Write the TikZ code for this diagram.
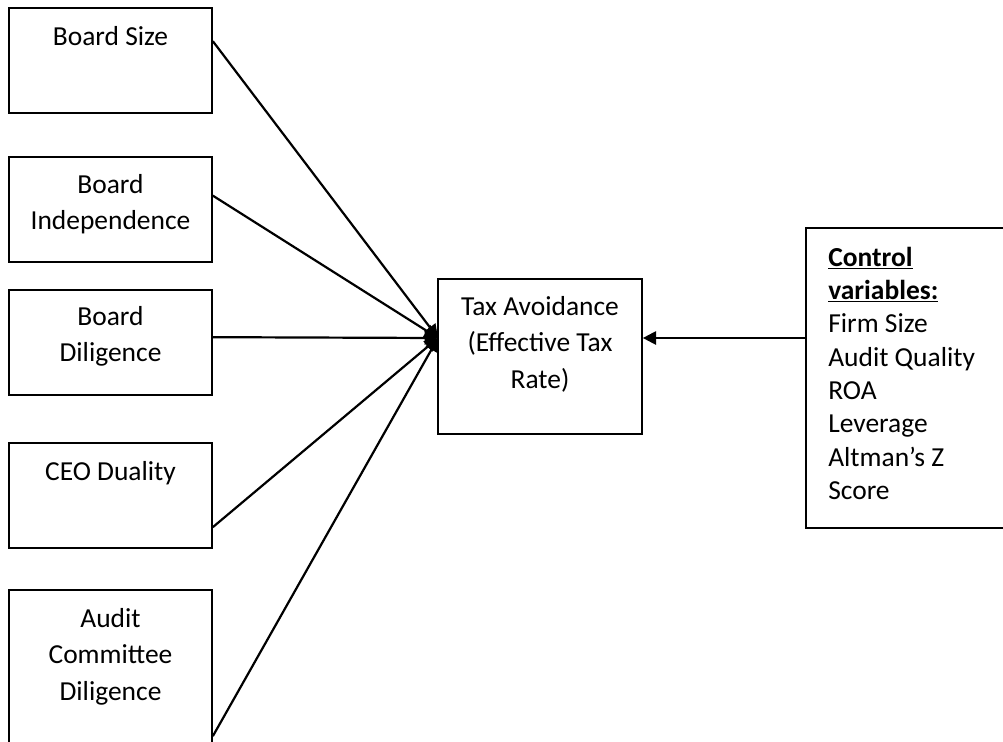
\documentclass[tikz,border=0pt]{standalone}
\usepackage{fontspec}
\setmainfont{Carlito}
\usetikzlibrary{arrows.meta}
\begin{document}
\begin{tikzpicture}[x=0.75pt,y=-0.75pt,
  box/.style={draw, line width=1.25pt, inner sep=0pt, minimum width=152.25pt, minimum height=78.75pt},
  txt/.style={anchor=north, inner sep=0pt, align=center, font=\fontsize{20.6}{27.4}\selectfont},
  conn/.style={line width=1.65pt, -{Triangle[length=10pt,width=10pt]}}]
\useasboundingbox (0,0) rectangle (1003,742);
\clip (0,0) rectangle (1003,742);
% boxes
\node[box] (bs) at (110.5,60.5) {};
\node[box] (bi) at (110.5,209.5) {};
\node[box] (bd) at (110.5,342.5) {};
\node[box] (ceo) at (110.5,495.5) {};
\node[box, minimum height=157.5pt] (acd) at (110.5,695) {};
\node[box, minimum width=153pt, minimum height=116.25pt] (tax) at (540,356.5) {};
\node[box, draw=none, minimum width=300pt, minimum height=223.5pt] (ctrl) at (1007,378) {};
\draw[line width=1.25pt] (ctrl.north east) -- (ctrl.north west) -- (ctrl.south west) -- (ctrl.south east);
% texts
\node[txt] (tbs) at (110.5,21) {\rule{0pt}{18pt}Board Size};
\node[txt] (tbi) at (110.5,169) {\rule{0pt}{18pt}Board\\Independence};
\node[txt] (tbd) at (110.5,301) {\rule{0pt}{18pt}Board\\Diligence};
\node[txt] (tceo) at (110.5,456) {\rule{0pt}{18pt}CEO Duality};
\node[txt] (tacd) at (110.5,603) {\rule{0pt}{18pt}Audit\\Committee\\Diligence};
\node[txt] (ttax) at (540,291) {\rule{0pt}{18pt}Tax Avoidance\\(Effective Tax\\Rate)};
\node[txt, anchor=north west, align=left, font=\fontsize{20.6}{25}\selectfont] (tctrl) at (828,242)
  {\rule{0pt}{18pt}\underline{\textbf{Control}}\\\underline{\textbf{variables:}}\\Firm Size\\Audit Quality\\ROA\\Leverage\\Altman’s Z\\Score};
% connectors
\coordinate (tip) at (438,338);
\draw[conn] ([yshift=-25.5pt]bs.north east) -- (tip);
\draw[conn] ([yshift=-29.6pt]bi.north east) -- (tip);
\draw[conn] ([yshift=-36pt]bd.north east) -- (tip);
\draw[conn] ([yshift=-63.75pt]ceo.north east) -- (tip);
\draw[conn] ([yshift=-110.25pt]acd.north east) -- (tip);
\draw[conn] (ctrl.west |- tip) -- (tax.east |- tip);
\end{tikzpicture}
\end{document}
